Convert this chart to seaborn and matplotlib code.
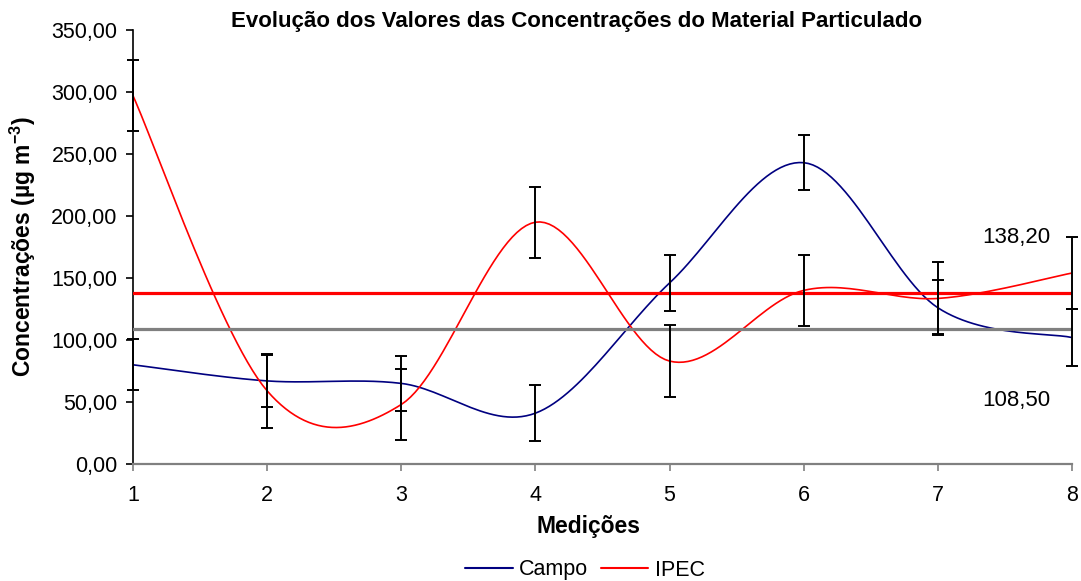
import numpy as np
import pandas as pd
import matplotlib
matplotlib.use("Agg")
import matplotlib.pyplot as plt
from matplotlib.lines import Line2D
from matplotlib.ticker import FuncFormatter, MultipleLocator
import seaborn as sns

# Measurements and concentrations (µg m-3)
medicoes = [1, 2, 3, 4, 5, 6, 7, 8]
campo = [80, 67, 65, 41, 146, 243, 126, 102]
ipec = [297, 59, 48, 195, 83, 140, 133.5, 154]
campo_err = [20.5, 21, 22, 22.5, 22.4, 22.4, 22, 22.8]
ipec_err = [28.5, 30, 28.5, 28.5, 29.3, 28.5, 29, 28.7]
media_campo = 108.50
media_ipec = 138.20
series_names = ["Campo", "IPEC"]
series_colors = ["#000080", "#FF0000"]
media_colors = ["#808080", "#FF0000"]

sns.set_theme(style="white")
plt.rcParams["font.family"] = ["Liberation Sans", "DejaVu Sans"]
plt.rcParams["mathtext.default"] = "regular"
plt.rcParams["text.color"] = "black"
plt.rcParams["axes.labelcolor"] = "black"


def smooth_curve(x, y, n=30):
    """Bezier smoothing between consecutive points (spreadsheet 'smoothed line')."""
    pts = np.column_stack([x, y]).astype(float)
    out = [pts[0]]
    for i in range(len(pts) - 1):
        p0 = pts[i - 1] if i > 0 else pts[i]
        p1, p2 = pts[i], pts[i + 1]
        p3 = pts[i + 2] if i + 2 < len(pts) else pts[i + 1]
        c1 = p1 + (p2 - p0) / 6.0
        c2 = p2 - (p3 - p1) / 6.0
        t = np.linspace(0, 1, n)[1:, None]
        seg = ((1 - t) ** 3) * p1 + 3 * ((1 - t) ** 2) * t * c1 \
            + 3 * (1 - t) * (t ** 2) * c2 + (t ** 3) * p2
        out.extend(seg)
    return np.array(out)


frames = []
for name, vals in zip(series_names, [campo, ipec]):
    c = smooth_curve(medicoes, vals)
    frames.append(pd.DataFrame({"x": c[:, 0], "y": c[:, 1], "serie": name}))
curves = pd.concat(frames, ignore_index=True)

fig = plt.figure(figsize=(10.81, 5.81), dpi=100)
ax = fig.add_axes([0.12303, 0.20138, 0.86864, 0.74699])

sns.lineplot(data=curves, x="x", y="y", hue="serie", palette=series_colors,
             hue_order=series_names, sort=False, estimator=None,
             linewidth=1.2, legend=False, ax=ax, zorder=2)

ax.axhline(media_ipec, color=media_colors[1], linewidth=2.3, zorder=3)
ax.axhline(media_campo, color=media_colors[0], linewidth=2.3, zorder=3)

for vals, errs in [(campo, campo_err), (ipec, ipec_err)]:
    ax.errorbar(medicoes, vals, yerr=errs, fmt="none", ecolor="black",
                elinewidth=1.4, capsize=4.5, capthick=1.4, zorder=4,
                clip_on=False)

ax.text(7.84, 183, "138,20", ha="right", va="center", fontsize=16, color="black")
ax.text(7.84, 51.6, "108,50", ha="right", va="center", fontsize=16, color="black")

ax.set_xlim(1, 8)
ax.set_ylim(0, 350)
ax.xaxis.set_major_locator(MultipleLocator(1))
ax.yaxis.set_major_locator(MultipleLocator(50))
ax.yaxis.set_major_formatter(FuncFormatter(lambda v, p: f"{v:.2f}".replace(".", ",")))
ax.set_xlabel("")
ax.set_ylabel("")

for side in ["top", "right"]:
    ax.spines[side].set_visible(False)
ax.spines["left"].set_color("black")
ax.spines["left"].set_linewidth(1.2)
ax.spines["bottom"].set_color("#808080")
ax.spines["bottom"].set_linewidth(1.6)
ax.tick_params(axis="y", which="major", direction="out", length=5, width=1.2,
               color="black", labelsize=15.5, labelcolor="black", pad=6, left=True)
ax.tick_params(axis="x", which="major", direction="out", length=5, width=1.2,
               color="#808080", labelsize=15.5, labelcolor="black", pad=10, bottom=True)

fig.text(577 / 1081, 1 - 21 / 581,
         "Evolução dos Valores das Concentrações do Material Particulado",
         ha="center", va="center", fontsize=16, fontweight="bold", color="black")
fig.text(588 / 1081, 1 - 527 / 581, "Medições", ha="center", va="center",
         fontsize=16.5, fontweight="bold", color="black")
fig.text(23 / 1081, 1 - 247 / 581, "Concentrações (µg m$^{-3}$)", rotation=90,
         ha="center", va="center", fontsize=16.5, fontweight="bold", color="black")

handles = [Line2D([0], [0], color=c, linewidth=1.5) for c in series_colors]
leg = fig.legend(handles, series_names, loc="center", bbox_to_anchor=(585 / 1081, 1 - 570 / 581),
                 ncol=2, frameon=False, fontsize=15.5, handlelength=2.2, handletextpad=0.3,
                 columnspacing=0.6, borderaxespad=0)
for txt in leg.get_texts():
    txt.set_color("black")

fig.savefig("out.png", dpi=100)
